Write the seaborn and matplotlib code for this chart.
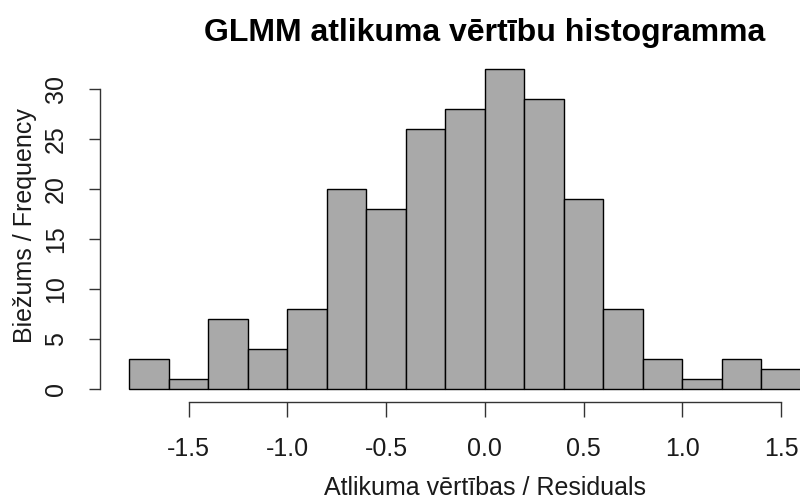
import numpy as np
import pandas as pd
import matplotlib
matplotlib.use("Agg")
import matplotlib.pyplot as plt
import seaborn as sns

# Histogram of GLMM residuals: bin edges (width 0.2) and counts per bin
bin_edges = [-1.8, -1.6, -1.4, -1.2, -1.0, -0.8, -0.6, -0.4, -0.2, 0.0,
             0.2, 0.4, 0.6, 0.8, 1.0, 1.2, 1.4, 1.6]
counts = [3, 1, 7, 4, 8, 20, 18, 26, 28, 32, 29, 19, 8, 3, 1, 3, 2]
x_ticks = [-1.5, -1.0, -0.5, 0.0, 0.5, 1.0, 1.5]
x_tick_labels = ["-1.5", "-1.0", "-0.5", "0.0", "0.5", "1.0", "1.5"]
y_ticks = [0, 5, 10, 15, 20, 25, 30]

title = "GLMM atlikuma vērtību histogramma"
x_label = "Atlikuma vērtības / Residuals"
y_label = "Biežums / Frequency"

sns.set_theme(style="white")
plt.rcParams["font.family"] = ["Liberation Sans", "DejaVu Sans"]

W, H = 800, 503
fig = plt.figure(figsize=(W / 100, H / 100), dpi=100)
ax = fig.add_axes([100 / W, 100.9 / H, 728 / W, 345.9 / H])

edges = np.array(bin_edges)
df = pd.DataFrame({"resid": (edges[:-1] + edges[1:]) / 2,
                   "n": np.array(counts, dtype=float)})
sns.histplot(data=df, x="resid", weights="n", bins=list(edges), ax=ax,
             color="#A9A9A9", edgecolor="black", linewidth=1.0,
             alpha=1.0, stat="count")

ax.set_xlim(-1.949, 1.737)
ax.set_ylim(-1.28, 33.28)

for s in ["top", "right"]:
    ax.spines[s].set_visible(False)
for s in ["left", "bottom"]:
    ax.spines[s].set_visible(True)
    ax.spines[s].set_color("#333333")
    ax.spines[s].set_linewidth(1.0)
ax.spines["left"].set_bounds(0, 30)
ax.spines["bottom"].set_bounds(-1.5, 1.5)

ax.set_xticks(x_ticks)
ax.set_xticklabels(x_tick_labels)
ax.set_yticks(y_ticks)
ax.set_yticklabels([str(v) for v in y_ticks], rotation=90, va="center")
ax.tick_params(axis="x", direction="out", length=11, width=1.0,
               color="#333333", pad=14, labelsize=18, labelcolor="#1a1a1a",
               bottom=True)
ax.tick_params(axis="y", direction="out", length=8, width=1.0,
               color="#333333", pad=15, labelsize=18, labelcolor="#1a1a1a",
               left=True)

ax.set_xlabel("")
ax.set_ylabel("")
fig.text(485 / W, 1 - 488 / H, x_label, ha="center", va="center",
         fontsize=18, color="#1a1a1a")
fig.text(25 / W, 1 - 226 / H, y_label, ha="center", va="center",
         rotation=90, fontsize=18, color="#1a1a1a")
fig.text(485 / W, 1 - 33 / H, title, ha="center", va="center",
         fontsize=23, fontweight="bold", color="black")

fig.savefig("out.png", dpi=100)
